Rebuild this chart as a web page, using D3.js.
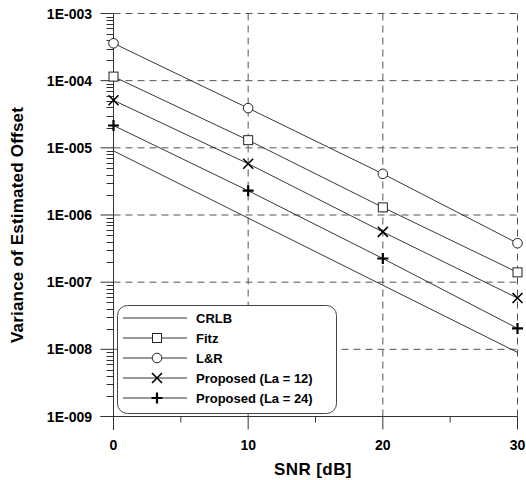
<!DOCTYPE html>
<html>
<head>
<meta charset="utf-8">
<script src="https://cdn.jsdelivr.net/npm/d3@7"></script>
<style>
  body { margin: 0; background: #fff; }
  text { font-family: "Liberation Sans", Arial, sans-serif; font-weight: bold; }
</style>
</head>
<body>
<svg width="526" height="480"></svg>
<script>
const snr = [0, 10, 20, 30];
const crlb = [9e-6, 9e-7, 9e-8, 9e-9];
const fitz = [1.15e-4, 1.3e-5, 1.3e-6, 1.4e-7];
const lr = [3.6e-4, 3.9e-5, 4.1e-6, 3.8e-7];
const prop12 = [5.1e-5, 5.8e-6, 5.6e-7, 5.8e-8];
const prop24 = [2.15e-5, 2.3e-6, 2.25e-7, 2.05e-8];
const yTickLabels = ['1E-003', '1E-004', '1E-005', '1E-006', '1E-007', '1E-008', '1E-009'];
const yTickValues = [1e-3, 1e-4, 1e-5, 1e-6, 1e-7, 1e-8, 1e-9];
const xTicks = [0, 10, 20, 30];
const xMinor = [5, 15, 25];

const series = [
  { name: 'CRLB', values: crlb, marker: 'none' },
  { name: 'Fitz', values: fitz, marker: 'square' },
  { name: 'L&R', values: lr, marker: 'circle' },
  { name: 'Proposed (La = 12)', values: prop12, marker: 'x' },
  { name: 'Proposed (La = 24)', values: prop24, marker: 'plus' },
];

const svg = d3.select('svg');
const x = d3.scaleLinear().domain([0, 30]).range([113.5, 517.5]);
const y = d3.scaleLog().domain([1e-9, 1e-3]).range([416.5, 13.5]);

// grid
const grid = svg.append('g').attr('stroke', '#555').attr('stroke-dasharray', '7,5').attr('stroke-width', 1);
grid.selectAll('line.h').data(yTickValues.slice(0, 6)).enter().append('line')
    .attr('x1', x(0)).attr('x2', x(30))
    .attr('y1', d => y(d)).attr('y2', d => y(d));
grid.selectAll('line.v').data(xTicks.slice(1)).enter().append('line')
    .attr('x1', d => x(d)).attr('x2', d => x(d))
    .attr('y1', y(1e-3)).attr('y2', y(1e-9));

// y axis
const minorY = [];
for (let e = -9; e < -3; e++) for (let m = 2; m <= 9; m++) minorY.push(m * Math.pow(10, e));
const yAxis = svg.append('g').attr('stroke', '#333').attr('stroke-width', 1);
yAxis.append('line').attr('x1', x(0)).attr('x2', x(0)).attr('y1', y(1e-3)).attr('y2', 430);
yAxis.selectAll('line.maj').data(yTickValues).enter().append('line')
    .attr('x1', x(0) - 13).attr('x2', x(0)).attr('y1', d => y(d)).attr('y2', d => y(d));
yAxis.selectAll('line.min').data(minorY).enter().append('line')
    .attr('x1', x(0) - 7).attr('x2', x(0)).attr('y1', d => Math.round(y(d)) + 0.5).attr('y2', d => Math.round(y(d)) + 0.5);
svg.append('g').selectAll('text').data(yTickValues).enter().append('text')
    .attr('x', 92).attr('y', d => y(d) + 5)
    .attr('text-anchor', 'end').attr('font-size', 14)
    .text((d, i) => yTickLabels[i]);

// x axis
const xAxis = svg.append('g').attr('stroke', '#333').attr('stroke-width', 1);
xAxis.append('line').attr('x1', x(0) - 13).attr('x2', x(30)).attr('y1', y(1e-9)).attr('y2', y(1e-9));
xAxis.selectAll('line.maj').data(xTicks).enter().append('line')
    .attr('x1', d => x(d)).attr('x2', d => x(d)).attr('y1', y(1e-9)).attr('y2', y(1e-9) + 13);
xAxis.selectAll('line.min').data(xMinor).enter().append('line')
    .attr('x1', d => x(d)).attr('x2', d => x(d)).attr('y1', y(1e-9)).attr('y2', y(1e-9) + 6);
svg.append('g').selectAll('text').data(xTicks).enter().append('text')
    .attr('x', d => x(d)).attr('y', 450)
    .attr('text-anchor', 'middle').attr('font-size', 14)
    .text(d => d);

// axis titles
svg.append('text').attr('x', 313).attr('y', 475).attr('text-anchor', 'middle')
    .attr('font-size', 17).attr('letter-spacing', 0.4).text('SNR [dB]');
svg.append('text').attr('transform', 'translate(23,225) rotate(-90)').attr('text-anchor', 'middle')
    .attr('font-size', 17).attr('letter-spacing', 0.2).text('Variance of Estimated Offset');

// markers
function drawMarker(g, type) {
  if (type === 'square') {
    g.append('rect').attr('x', -4.5).attr('y', -4.5).attr('width', 9).attr('height', 9)
      .attr('fill', '#fff').attr('stroke', '#222').attr('stroke-width', 1);
  } else if (type === 'circle') {
    g.append('circle').attr('r', 4.8).attr('fill', '#fff').attr('stroke', '#222').attr('stroke-width', 1);
  } else if (type === 'x') {
    g.append('path').attr('d', 'M-5,-5L5,5M-5,5L5,-5').attr('stroke', '#000').attr('stroke-width', 1.6);
  } else if (type === 'plus') {
    g.append('path').attr('d', 'M-5.5,0L5.5,0M0,-5.5L0,5.5').attr('stroke', '#000').attr('stroke-width', 2.2);
  }
}

// lines
const line = d3.line().x((d, i) => x(snr[i])).y(d => y(d));
const plot = svg.append('g');
series.forEach(s => {
  plot.append('path').datum(s.values).attr('d', line)
    .attr('fill', 'none').attr('stroke', '#222').attr('stroke-width', 0.9);
});
series.forEach(s => {
  s.values.forEach((v, i) => {
    const g = plot.append('g').attr('transform', `translate(${x(snr[i])},${y(v)})`);
    drawMarker(g, s.marker);
  });
});

// legend
const legend = svg.append('g');
legend.append('rect').attr('x', 117.5).attr('y', 305.5).attr('width', 219).attr('height', 108)
    .attr('rx', 10).attr('fill', '#fff').attr('stroke', '#444').attr('stroke-width', 1);
series.forEach((s, i) => {
  const ly = 318 + i * 20;
  const g = legend.append('g');
  g.append('line').attr('x1', 123).attr('x2', 187).attr('y1', ly).attr('y2', ly)
    .attr('stroke', '#333').attr('stroke-width', 1);
  drawMarker(g.append('g').attr('transform', `translate(157,${ly})`), s.marker);
  g.append('text').attr('x', 196).attr('y', ly + 5).attr('font-size', 13).text(s.name);
});
</script>
</body>
</html>
